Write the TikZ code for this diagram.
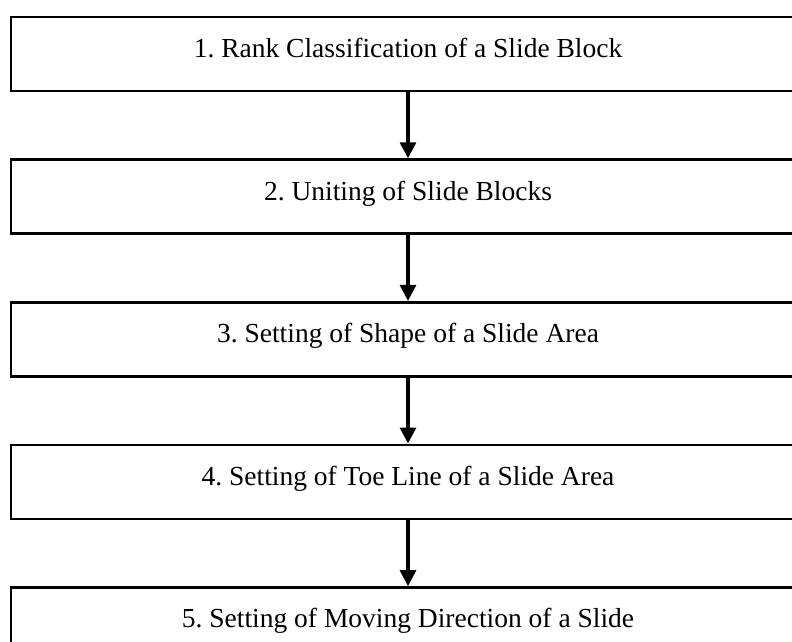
\documentclass[tikz,border=0pt]{standalone}
\usepackage{fontspec}
\setmainfont{Liberation Serif}
\usetikzlibrary{arrows.meta,positioning}
\frenchspacing

\begin{document}
\begin{tikzpicture}[node distance=66pt]
                \tikzstyle{stage} = [draw, line width=2.6pt, rectangle, minimum height=74pt, minimum width=794pt, text height=19pt, text depth=12pt, font=\fontsize{27.5}{32}\selectfont]
                \tikzstyle{l} = [draw, line width=3.2pt, -{Triangle[length=16pt,width=16pt]}]

                \useasboundingbox (0,0) rectangle (792pt,-642pt);
                \clip (0,0) rectangle (792pt,-642pt);

                \node [stage] (rank) at (408pt,-54pt) {1. Rank Classification of a Slide Block};
                \node [stage, below=of rank] (unite) {2. Uniting of Slide Blocks};
                \node [stage, below=of unite] (shape) {3. Setting of Shape of a Slide Area};
                \node [stage, below=of shape] (toe) {4. Setting of Toe Line of a Slide Area};
                \node [stage, below=of toe] (dir) {5. Setting of Moving Direction of a Slide};

                \draw [l] (rank) -- (unite);
                \draw [l] (unite) -- (shape);
                \draw [l] (shape) -- (toe);
                \draw [l] (toe) -- (dir);
            \end{tikzpicture}
\end{document}
